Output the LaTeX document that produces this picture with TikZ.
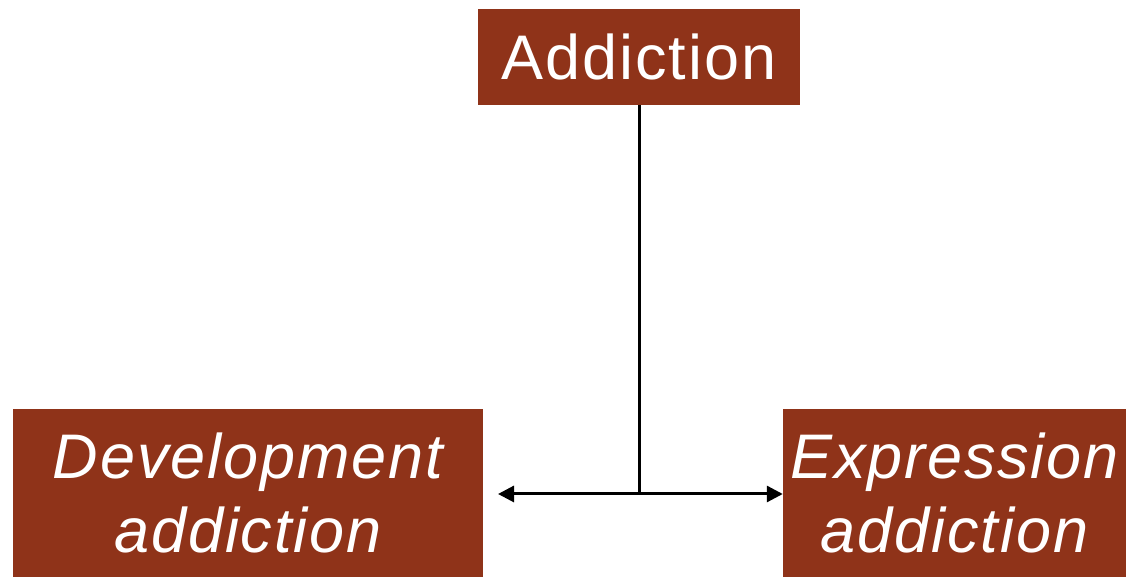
\documentclass[tikz,border=0pt]{standalone}
\usepackage{fontspec}
\setmainfont{Liberation Sans}[LetterSpace=3]
\usetikzlibrary{arrows.meta}
\definecolor{boxred}{RGB}{143,51,25}
\begin{document}
\begin{tikzpicture}[x=1pt,y=1pt,
  box/.style={fill=boxred, text=white, inner sep=0pt, align=center,
    font=\fontsize{63}{74}\selectfont},
  conn/.style={line width=3pt, black},
  tip/.style={-{Triangle[length=16pt,width=16pt]}}]
\useasboundingbox (0,0) rectangle (1126,577);
\node[box, minimum width=322pt, minimum height=96pt] (add) at (639,520) {Addiction};
\node[box, minimum width=470pt, minimum height=168pt, font=\fontsize{63}{74}\selectfont\itshape] (dev) at (248,84) {Development\\addiction};
\node[box, minimum width=343pt, minimum height=168pt, font=\fontsize{63}{74}\selectfont\itshape] (exp) at (954.5,84) {Expression\\addiction};
\coordinate (j) at (639,83);
\coordinate (l) at (498,83);
\draw[conn] (add.south) -- (j);
\draw[conn, tip] (j) -- (l);
\draw[conn, tip] (j) -- (exp.west |- j);
\end{tikzpicture}
\end{document}
